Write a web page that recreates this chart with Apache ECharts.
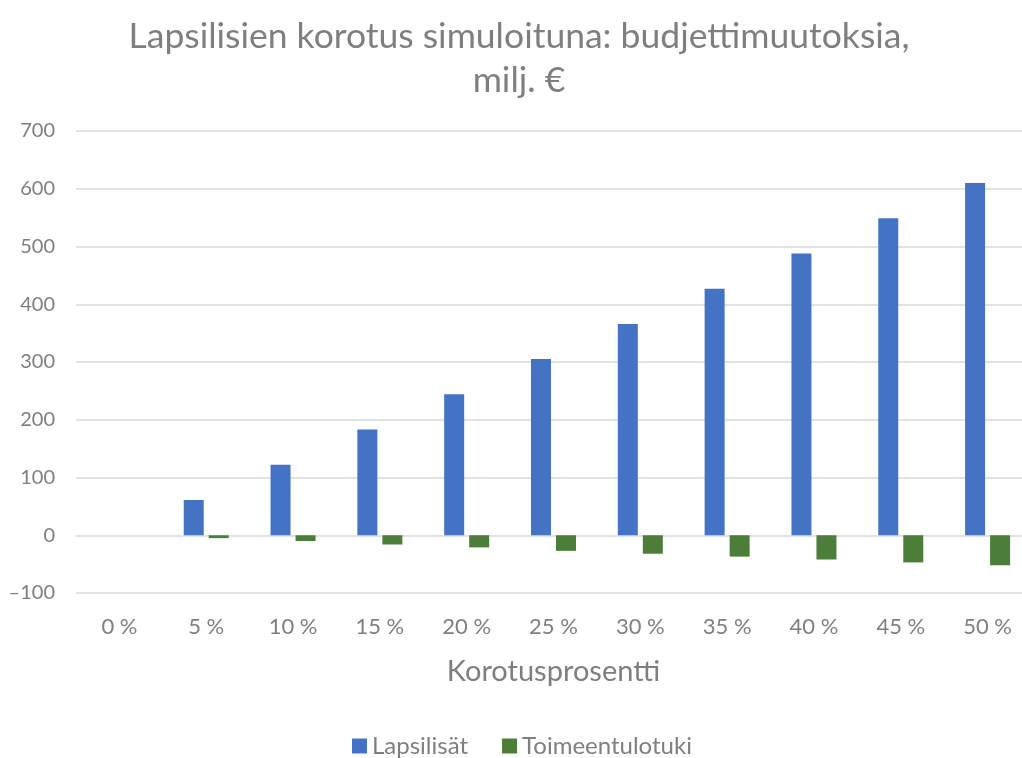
<!DOCTYPE html>
<html>
<head>
<meta charset="utf-8">
<script src="https://cdn.jsdelivr.net/npm/echarts@6/dist/echarts.min.js"></script>
<style>
  html, body { margin: 0; padding: 0; background: #fff; }
  #chart { width: 1022px; height: 758px; }
</style>
</head>
<body>
<div id="chart"></div>
<script>
// category labels (korotusprosentti)
const categories = ["0 %", "5 %", "10 %", "15 %", "20 %", "25 %", "30 %", "35 %", "40 %", "45 %", "50 %"];
// budget changes, milj. €
const lapsilisat = [0, 61, 122, 183, 244, 305, 366, 427, 488, 549, 610];
const toimeentulotuki = [0, -5, -10, -16, -21, -27, -32, -37, -42, -47, -52];

const textGray = "#7f7f7f";
const font = "Lato, 'Open Sans', sans-serif";

const chart = echarts.init(document.getElementById("chart"));

chart.setOption({
  backgroundColor: "#fff",
  animation: false,
  title: {
    text: "Lapsilisien korotus simuloituna: budjettimuutoksia,\nmilj. €",
    left: 514,
    textAlign: "center",
    top: 10,
    textStyle: {
      color: textGray,
      fontFamily: font,
      fontSize: 35.5,
      fontWeight: "normal",
      lineHeight: 44,
    },
  },
  legend: {
    top: 729,
    left: 347,
    itemWidth: 15,
    itemHeight: 15,
    itemGap: 34,
    icon: "rect",
    textStyle: { color: textGray, fontFamily: font, fontSize: 24 },
    data: ["Lapsilisät", "Toimeentulotuki"],
  },
  grid: {
    left: 76,
    width: 955,
    top: 131,
    bottom: 165,
    containLabel: false,
    outerBoundsMode: "none",
  },
  xAxis: {
    type: "category",
    data: categories,
    name: "Korotusprosentti",
    nameLocation: "middle",
    nameGap: 64,
    nameTextStyle: { color: textGray, fontFamily: font, fontSize: 29 },
    axisLine: { show: false },
    axisTick: { show: false },
    axisLabel: { color: textGray, fontFamily: font, fontSize: 22, margin: 23 },
  },
  yAxis: {
    type: "value",
    min: -100,
    max: 700,
    interval: 100,
    axisLine: { show: false },
    axisTick: { show: false },
    axisLabel: {
      color: textGray,
      fontFamily: font,
      fontSize: 20,
      margin: 21,
      formatter: (v) => String(v).replace("-", "\u2013"),
    },
    splitLine: { lineStyle: { color: "#d9d9d9", width: 1.5 } },
  },
  series: [
    {
      name: "Lapsilisät",
      type: "bar",
      data: lapsilisat,
      barWidth: 20,
      barGap: "25%",
      itemStyle: { color: "#4472c4" },
    },
    {
      name: "Toimeentulotuki",
      type: "bar",
      data: toimeentulotuki,
      barWidth: 20,
      itemStyle: { color: "#4c7e3a" },
    },
  ],
});
</script>
</body>
</html>
